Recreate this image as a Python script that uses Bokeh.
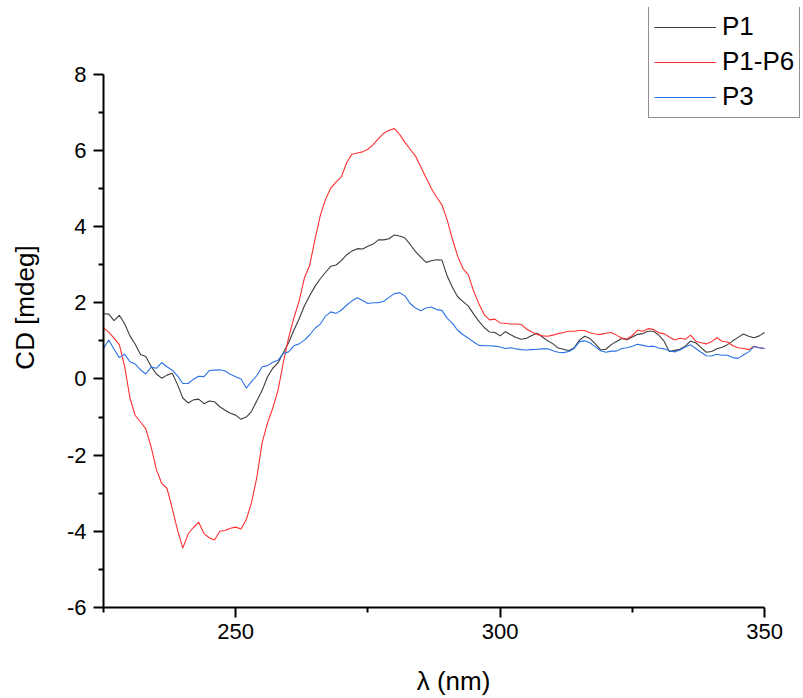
from bokeh.plotting import figure
from bokeh.models import Range1d, FixedTicker, Legend, LegendItem, PrintfTickFormatter
from bokeh.embed import file_html
from bokeh.resources import INLINE

wavelength = list(range(225, 351))

p1 = [1.71, 1.70, 1.53, 1.67, 1.45, 1.13, 0.91, 0.64, 0.59, 0.33,
      0.13, 0.02, 0.10, 0.15, -0.15, -0.50, -0.63, -0.55, -0.53, -0.65,
      -0.58, -0.60, -0.73, -0.82, -0.90, -0.95, -1.06, -1.00, -0.85, -0.57,
      -0.30, 0.05, 0.28, 0.42, 0.69, 0.95, 1.28, 1.58, 1.92, 2.19,
      2.43, 2.63, 2.80, 2.96, 2.99, 3.11, 3.26, 3.36, 3.42, 3.41,
      3.48, 3.54, 3.65, 3.65, 3.68, 3.78, 3.75, 3.70, 3.53, 3.34,
      3.20, 3.06, 3.10, 3.13, 3.12, 2.70, 2.40, 2.15, 2.03, 1.91,
      1.70, 1.51, 1.35, 1.23, 1.22, 1.13, 1.24, 1.16, 1.09, 1.04,
      1.07, 1.14, 1.20, 1.10, 1.00, 0.92, 0.81, 0.78, 0.74, 0.82,
      1.02, 1.12, 1.06, 0.92, 0.76, 0.78, 0.90, 0.98, 1.06, 1.03,
      1.10, 1.17, 1.19, 1.25, 1.25, 1.15, 0.99, 0.72, 0.75, 0.78,
      0.86, 0.99, 0.95, 0.82, 0.70, 0.72, 0.79, 0.83, 0.90, 1.00,
      1.09, 1.18, 1.12, 1.08, 1.13, 1.22]

p1_p6 = [1.34, 1.23, 1.07, 0.90, 0.33, -0.50, -0.96, -1.13, -1.31, -1.78,
         -2.38, -2.74, -2.87, -3.40, -3.97, -4.44, -4.07, -3.90, -3.76, -4.06,
         -4.17, -4.23, -4.00, -3.98, -3.92, -3.89, -3.94, -3.69, -3.24, -2.58,
         -1.67, -1.16, -0.77, -0.30, 0.43, 1.08, 1.60, 2.05, 2.65, 2.99,
         3.67, 4.29, 4.72, 5.01, 5.17, 5.31, 5.68, 5.90, 5.93, 5.96,
         6.03, 6.15, 6.31, 6.45, 6.53, 6.57, 6.42, 6.21, 6.03, 5.85,
         5.57, 5.28, 5.00, 4.77, 4.57, 4.17, 3.66, 3.21, 2.89, 2.73,
         2.30, 1.97, 1.69, 1.55, 1.57, 1.47, 1.46, 1.44, 1.44, 1.43,
         1.31, 1.23, 1.17, 1.13, 1.12, 1.15, 1.19, 1.22, 1.25, 1.25,
         1.27, 1.27, 1.21, 1.18, 1.17, 1.20, 1.22, 1.15, 1.07, 1.05,
         1.14, 1.28, 1.25, 1.32, 1.30, 1.21, 1.19, 1.10, 1.02, 1.07,
         1.04, 1.15, 0.99, 0.95, 0.92, 0.98, 1.08, 0.99, 0.97, 0.87,
         0.82, 0.80, 0.77, 0.86, 0.82, 0.80]

p3 = [0.80, 1.02, 0.78, 0.56, 0.65, 0.45, 0.39, 0.24, 0.13, 0.31,
      0.28, 0.43, 0.32, 0.23, 0.08, -0.12, -0.12, -0.01, 0.07, 0.06,
      0.22, 0.23, 0.24, 0.21, 0.12, 0.06, 0.00, -0.24, -0.07, 0.09,
      0.32, 0.35, 0.44, 0.49, 0.67, 0.71, 0.87, 0.92, 1.02, 1.16,
      1.33, 1.44, 1.65, 1.76, 1.72, 1.81, 1.94, 2.05, 2.13, 2.06,
      1.98, 2.00, 2.00, 2.04, 2.14, 2.24, 2.26, 2.18, 1.98, 1.86,
      1.79, 1.86, 1.89, 1.82, 1.80, 1.59, 1.46, 1.27, 1.16, 1.07,
      0.97, 0.88, 0.87, 0.87, 0.86, 0.84, 0.80, 0.82, 0.79, 0.77,
      0.76, 0.77, 0.78, 0.79, 0.79, 0.74, 0.70, 0.69, 0.72, 0.80,
      0.98, 1.00, 0.95, 0.84, 0.74, 0.70, 0.73, 0.73, 0.80, 0.82,
      0.86, 0.91, 0.88, 0.85, 0.86, 0.81, 0.79, 0.74, 0.71, 0.76,
      0.84, 0.90, 0.80, 0.70, 0.61, 0.60, 0.65, 0.62, 0.62, 0.56,
      0.54, 0.63, 0.71, 0.85, 0.82, 0.80]

series_names = ["P1", "P1-P6", "P3"]
series_colors = ["#3c3c3c", "#ff3030", "#2a72e6"]

x_major = [250, 300, 350]
x_minor = [225, 275, 325]
y_major = [-6, -4, -2, 0, 2, 4, 6, 8]
y_minor = [-5, -3, -1, 1, 3, 5, 7]

FONT = "Liberation Sans"

# frame extends beyond the axes (axes drawn with bounds) so the legend
# can sit in the top-right corner like the reference
p = figure(width=803, height=698, output_backend="svg", toolbar_location=None,
           x_range=Range1d(225, 357.37), y_range=Range1d(-6, 9.75),
           min_border_left=103, min_border_right=0, min_border_top=7,
           min_border_bottom=88)
p.outline_line_color = None
p.grid.visible = False
p.background_fill_color = "white"
p.border_fill_color = "white"

renderers = []
for ys, c in zip([p1, p1_p6, p3], series_colors):
    r = p.line(wavelength, ys, line_color=c, line_width=1.1)
    renderers.append(r)

p.xaxis.ticker = FixedTicker(ticks=x_major, minor_ticks=x_minor)
p.yaxis.ticker = FixedTicker(ticks=y_major, minor_ticks=y_minor)
p.xaxis.bounds = (225, 350)
p.yaxis.bounds = (-6, 8)
p.xaxis.formatter = PrintfTickFormatter(format="%d")
p.yaxis.formatter = PrintfTickFormatter(format="%d")
for ax in (p.xaxis[0], p.yaxis[0]):
    ax.axis_line_width = 2
    ax.axis_line_color = "black"
    ax.major_tick_line_width = 2
    ax.minor_tick_line_width = 2
    ax.major_tick_line_color = "black"
    ax.minor_tick_line_color = "black"
    ax.major_tick_out = 10
    ax.major_tick_in = 0
    ax.minor_tick_out = 5
    ax.minor_tick_in = 0
    ax.major_label_text_font = FONT
    ax.major_label_text_font_size = "22px"
    ax.major_label_text_color = "black"
    ax.axis_label_text_font = FONT
    ax.axis_label_text_font_size = "26px"
    ax.axis_label_text_font_style = "normal"
    ax.axis_label_text_color = "black"

p.xaxis.axis_label = "λ (nm)"
p.yaxis.axis_label = "CD [mdeg]"
p.xaxis.major_label_standoff = 6
p.yaxis.major_label_standoff = 7
p.xaxis.axis_label_standoff = 24
p.yaxis.axis_label_standoff = 24

legend = Legend(items=[LegendItem(label=n, renderers=[r]) for n, r in zip(series_names, renderers)],
                location=(545, 489))
legend.label_text_font = FONT
legend.label_text_font_size = "26px"
legend.label_text_color = "black"
legend.glyph_width = 62
legend.glyph_height = 30
legend.label_height = 30
legend.label_standoff = 6
legend.spacing = 4
legend.padding = 5
legend.margin = 0
legend.border_line_color = "#222222"
legend.border_line_width = 1
legend.background_fill_color = "white"
legend.background_fill_alpha = 1
p.add_layout(legend, "center")

open("out.html", "w").write(file_html(p, INLINE))
